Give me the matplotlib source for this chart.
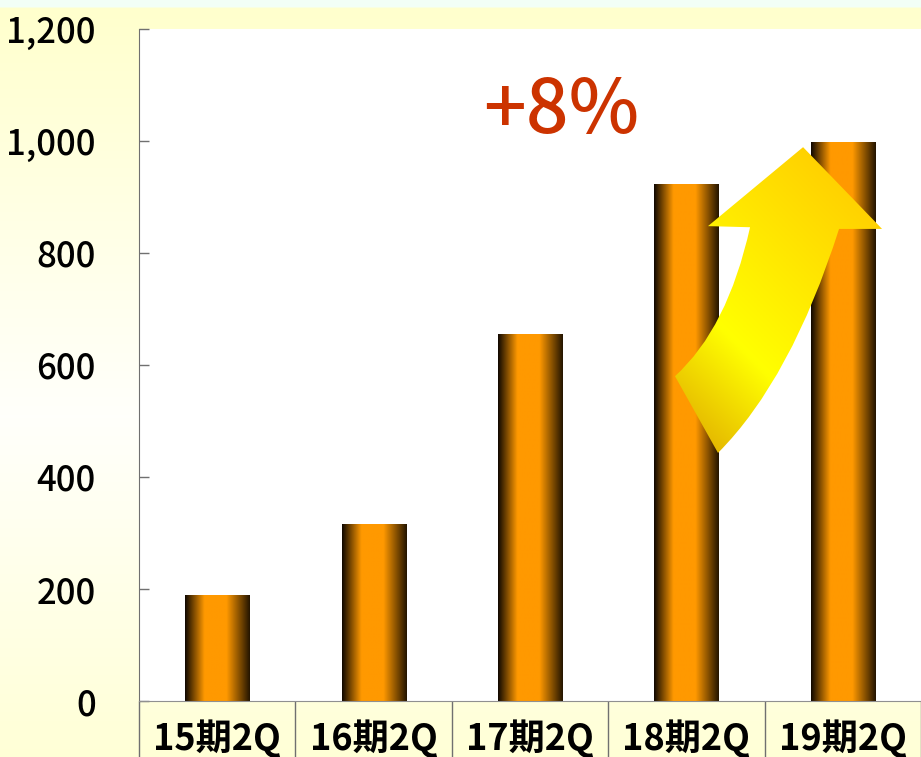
import numpy as np
import matplotlib
matplotlib.use("Agg")
import matplotlib.pyplot as plt
from matplotlib.colors import LinearSegmentedColormap
from matplotlib.path import Path
from matplotlib.patches import PathPatch

plt.rcParams['font.family'] = ['Noto Sans CJK JP', 'DejaVu Sans']

# ---- data ----
categories = ['15期2Q', '16期2Q', '17期2Q', '18期2Q', '19期2Q']
values = [189, 316, 655, 923, 998]
yticks = [0, 200, 400, 600, 800, 1000, 1200]
ytick_labels = ['0', '200', '400', '600', '800', '1,000', '1,200']
growth_label = '+8%'

W, H = 921, 757
fig = plt.figure(figsize=(W / 100, H / 100), dpi=100)

# ---- background ----
bg = fig.add_axes([0, 0, 1, 1], zorder=-10)
bg.set_axis_off()
ny = 400
yy = np.linspace(0, 1, ny)  # 0 = top
top_col = np.array([1.0, 1.0, 0.80])
mid_col = np.array([1.0, 1.0, 0.985])
bot_col = np.array([1.0, 1.0, 0.84])
img = np.zeros((ny, 1, 3))
for i, t in enumerate(yy):
    if t < 0.55:
        f = t / 0.55
        c = top_col * (1 - f) + mid_col * f
    else:
        f = (t - 0.55) / 0.45
        c = mid_col * (1 - f) + bot_col * f
    img[i, 0] = c
strip = int(ny * 9 / H)
img[:strip, 0] = [0.95, 1.0, 0.965]
bg.imshow(img, extent=[0, 1, 0, 1], aspect='auto', interpolation='bilinear')
bg.set_xlim(0, 1)
bg.set_ylim(0, 1)

# ---- main axes ----
left = 139 / W
bottom = (H - 701) / H
top = (H - 29) / H
ax = fig.add_axes([left, bottom, 1 - left, top - bottom])
ax.set_facecolor('white')

x = np.arange(len(categories))
bar_w = 0.41

bar_cmap = LinearSegmentedColormap.from_list(
    'cyl', [(0.0, (0.06, 0.03, 0.0)),
            (0.30, (1.0, 0.6, 0.0)),
            (0.64, (1.0, 0.6, 0.0)),
            (1.0, (0.14, 0.08, 0.0))])
grad = np.linspace(0, 1, 256).reshape(1, -1)

bars = ax.bar(x, values, width=bar_w, color='none', edgecolor='none')
for b in bars:
    x0 = b.get_x()
    ax.imshow(grad, cmap=bar_cmap, extent=[x0, x0 + b.get_width(), 0, b.get_height()],
              aspect='auto', interpolation='bilinear', zorder=2)

# ---- curved arrow (annotation) ----
verts = [(2.927, 580), (3.263, 665), (3.407, 846),
         (3.138, 848), (3.746, 989), (4.251, 843), (3.976, 843),
         (3.672, 575), (3.202, 443), (2.927, 580)]
codes = [Path.MOVETO, Path.CURVE3, Path.CURVE3,
         Path.LINETO, Path.LINETO, Path.LINETO, Path.LINETO,
         Path.CURVE3, Path.CURVE3, Path.CLOSEPOLY]
arrow_path = Path(verts, codes)
patch = PathPatch(arrow_path, facecolor='none', edgecolor='none', zorder=3)
ax.add_patch(patch)

ax_x0, ax_x1, ay0, ay1 = 2.85, 4.35, 430, 1000
nx, nyy = 300, 300
gx = np.linspace(ax_x0, ax_x1, nx)
gy = np.linspace(ay1, ay0, nyy)
GX, GY = np.meshgrid(gx, gy)
px = 139 + (GX + 0.5) * 156.4
py = 701 - GY * 0.56
s = ((px - 740) - (py - 347)) / np.sqrt(2)
arrow_cmap = LinearSegmentedColormap.from_list(
    'arr', [(0.0, (0.90, 0.73, 0.0)), (0.32, (1.0, 1.0, 0.0)), (1.0, (1.0, 0.82, 0.0))])
sn = np.clip((s + 90) / 280, 0, 1)
im = ax.imshow(sn, cmap=arrow_cmap, vmin=0, vmax=1, extent=[ax_x0, ax_x1, ay0, ay1],
               aspect='auto', interpolation='bilinear', zorder=3)
im.set_clip_path(patch)

# ---- growth text ----
ax.text(2.198, 1014, growth_label, color='#CC3300', fontsize=54, fontweight='medium',
        ha='center', va='baseline', zorder=4)

# ---- axes styling ----
ax.set_xlim(-0.5, len(categories) - 0.5)
ax.set_ylim(0, 1200)
ax.set_yticks(yticks)
ax.set_yticklabels(ytick_labels, fontweight='medium')
ax.tick_params(axis='y', direction='in', length=7.2, width=1, color='#707070',
               labelsize=25, pad=31)
ax.set_xticks(x)
ax.set_xticklabels(categories, fontsize=26, fontweight='bold')
ax.tick_params(axis='x', which='major', length=0, pad=13)
ax.set_xticks(np.arange(-0.5, len(categories)), minor=True)
ax.tick_params(axis='x', which='minor', direction='out', length=41, width=1, color='#707070')
for sp in ['top', 'right']:
    ax.spines[sp].set_visible(False)
ax.spines['left'].set_color('#707070')
ax.spines['bottom'].set_color('#909090')

fig.savefig('out.png', dpi=100)
